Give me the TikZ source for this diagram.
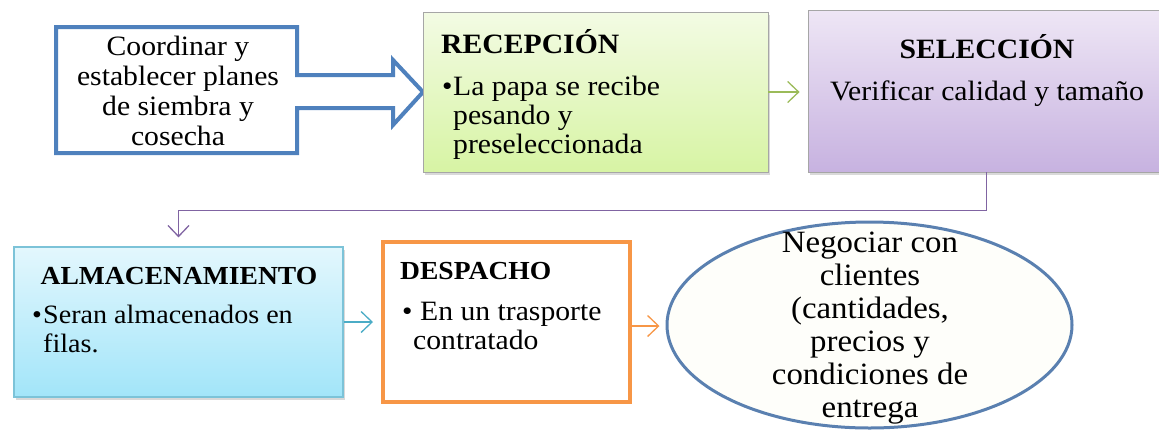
\documentclass[tikz,border=0pt]{standalone}
\usepackage{fontspec}
\setmainfont[FakeStretch=1.06]{Liberation Serif}
\usetikzlibrary{shapes.geometric,arrows.meta,shadows}
\definecolor{arrowblue}{HTML}{4F81BD}
\definecolor{boxgray}{HTML}{A6A6A6}
\definecolor{grtop}{HTML}{F3FBE4}
\definecolor{grbot}{HTML}{D7F4A4}
\definecolor{grline}{HTML}{9BBB59}
\definecolor{putop}{HTML}{EEE6F5}
\definecolor{pubot}{HTML}{C7B2E0}
\definecolor{puline}{HTML}{8064A2}
\definecolor{cytop}{HTML}{E3F7FD}
\definecolor{cybot}{HTML}{A2E5F9}
\definecolor{cyborder}{HTML}{7CC3D8}
\definecolor{cyline}{HTML}{4BACC6}
\definecolor{orline}{HTML}{F79646}
\definecolor{ellborder}{HTML}{5A80B0}
\definecolor{ellfill}{HTML}{FEFEFA}
\begin{document}
\begin{tikzpicture}[x=1pt,y=-1pt,
  shade/.style={drop shadow={shadow xshift=1.5pt,shadow yshift=-3pt,opacity=0.3}},
  box/.style={rectangle,inner sep=0pt,draw=boxgray,line width=0.8pt,shade},
  txt/.style={inner sep=0pt,font=\fontsize{28}{29}\selectfont},
  ttl/.style={inner sep=0pt,font=\fontsize{28}{29}\selectfont\bfseries},
  conn/.style={line width=1.3pt,-{Straight Barb[length=11pt,width=21pt,line width=1.3pt]}}
]
\useasboundingbox (0,0) rectangle (1159,432);
% plan arrow
\draw[arrowblue,line width=4pt,line join=miter,fill=white]
  (56,27) -- (297,27) -- (297,75) -- (393,75) -- (393,60) -- (423,92)
  -- (393,125) -- (393,108) -- (297,108) -- (297,153) -- (56,153) -- cycle;
\node[txt,align=center,font=\fontsize{28}{30}\selectfont] (plan) at (178,90.5)
  {Coordinar y\\establecer planes\\de siembra y\\cosecha};
% boxes
\node[box,top color=grtop,bottom color=grbot,minimum width=345pt,minimum height=160pt] (rec) at (595.5,92) {};
\node[box,top color=putop,bottom color=pubot,minimum width=357pt,minimum height=162pt] (sel) at (986.5,91) {};
\node[box,draw=cyborder,line width=1.2pt,top color=cytop,bottom color=cybot,minimum width=329pt,minimum height=150pt] (alm) at (178.5,322) {};
\node[rectangle,inner sep=0pt,draw=orline,line width=4pt,fill=white,minimum width=247pt,minimum height=160pt] (desp) at (506.5,322) {};
\node[ellipse,inner sep=0pt,draw=ellborder,line width=3pt,fill=ellfill,minimum width=405pt,minimum height=206pt] (ell) at (869.5,325) {};
% texts
\node[ttl,anchor=base west] (recT) at (441,53) {RECEPCIÓN};
\node[txt,anchor=base west] (recB) at (442,95)
  {\makebox[11pt][l]{\textbullet}\parbox[t]{300pt}{La papa se recibe\\pesando y\\preseleccionada}};
\node[ttl,anchor=base] (selT) at (987,58) {SELECCIÓN};
\node[txt,anchor=base] (selB) at (987,100) {Verificar calidad y tamaño};
\node[ttl,anchor=base,font=\fontsize{26}{28}\selectfont\bfseries] (almT) at (179,284) {ALMACENAMIENTO};
\node[txt,anchor=base west,font=\fontsize{26.5}{29}\selectfont] (almB) at (32,323)
  {\makebox[11pt][l]{\textbullet}\parbox[t]{290pt}{Seran almacenados en\\filas.}};
\node[ttl,anchor=base west,font=\fontsize{26}{28}\selectfont\bfseries] (despT) at (400,279) {DESPACHO};
\node[txt,anchor=base west] (despB) at (402,320)
  {\makebox[11pt][l]{\textbullet}\parbox[t]{210pt}{\hspace{7pt}En un trasporte\\contratado}};
\node[txt,align=center,font=\fontsize{31}{33}\selectfont] (ellT) at (870,328.5)
  {Negociar con\\clientes\\(cantidades,\\precios y\\condiciones de\\entrega};
% connectors
\draw[conn,grline,shorten >=8pt] (rec.east) -- (rec.east -| sel.west);
\draw[conn,puline,line width=1.5pt,shorten >=9pt] (sel.south) -- ++(0,38) -| (alm.north);
\draw[conn,cyline,shorten >=8pt] (alm.east) -- (alm.east -| desp.west);
\draw[conn,orline,shorten >=6pt] ([yshift=-4pt]desp.east) -- ([yshift=-4pt]desp.east -| ell.west);
\end{tikzpicture}
\end{document}
